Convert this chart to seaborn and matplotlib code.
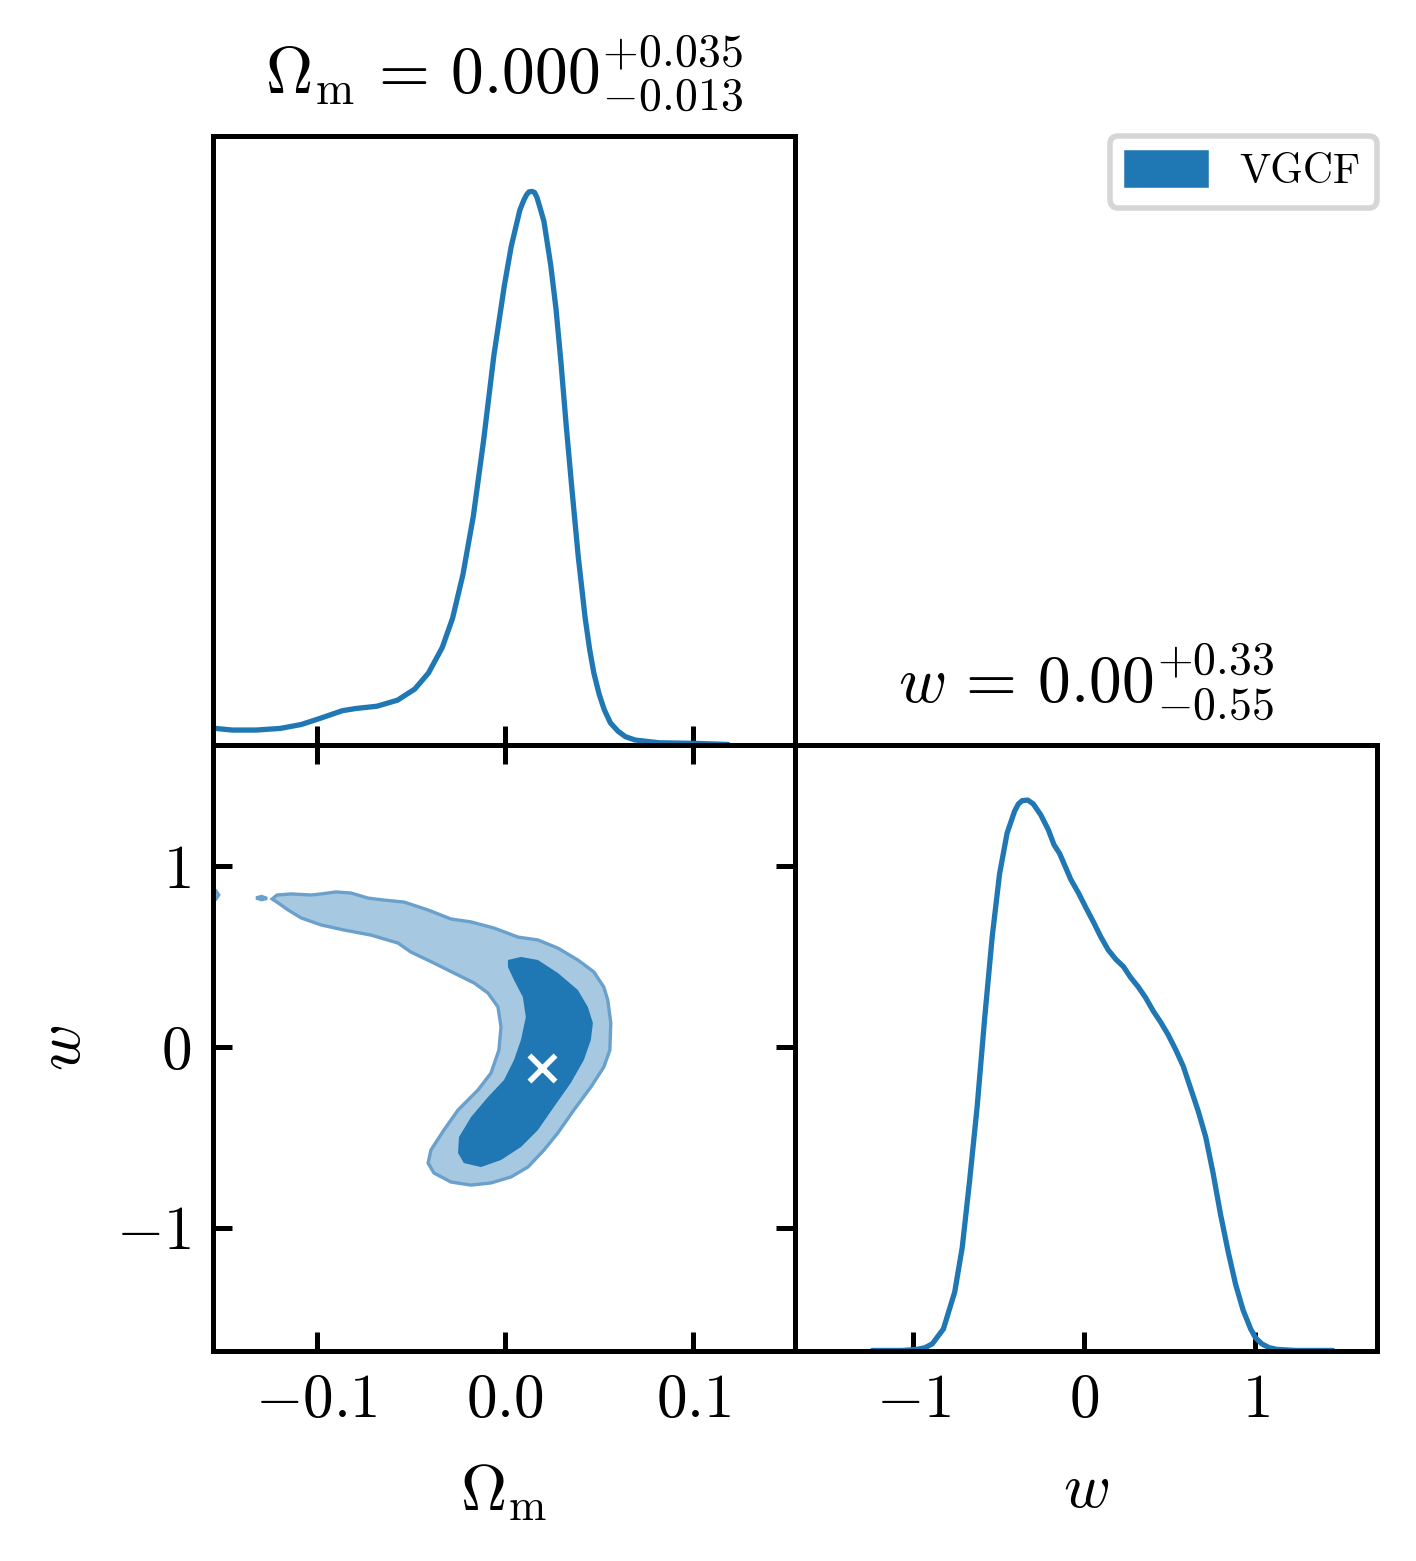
import numpy as np
import pandas as pd
import matplotlib
matplotlib.use("Agg")
import matplotlib.pyplot as plt
from matplotlib.patches import Patch
import seaborn as sns

# --- marginal of Omega_m (normalised to peak = 1) ---
om_grid = [-0.1539, -0.1448, -0.1320, -0.1192, -0.1082, -0.0991, -0.0863, -0.0790,
           -0.0680, -0.0570, -0.0479, -0.0406, -0.0333, -0.0278, -0.0223, -0.0168,
           -0.0113, -0.0059, -0.0004, 0.0033, 0.0079, 0.0100, 0.0115, 0.0128, 0.0143,
           0.0157, 0.0170, 0.0185, 0.0207, 0.0243, 0.0271, 0.0298, 0.0325, 0.0353,
           0.0389, 0.0426, 0.0450, 0.0472, 0.0500, 0.0527, 0.0560, 0.0600, 0.0640,
           0.0691, 0.0819, 0.1002, 0.1185]
om_density = [0.030, 0.027, 0.027, 0.030, 0.037, 0.047, 0.062, 0.066,
              0.070, 0.081, 0.101, 0.130, 0.176, 0.229, 0.308, 0.413,
              0.551, 0.703, 0.828, 0.900, 0.966, 0.984, 0.994, 0.999, 1.000,
              0.998, 0.989, 0.972, 0.946, 0.867, 0.788, 0.689, 0.578, 0.472,
              0.341, 0.229, 0.172, 0.130, 0.092, 0.064, 0.040, 0.025, 0.015,
              0.009, 0.004, 0.003, 0.001]

# --- marginal of w (normalised to peak = 1) ---
w_grid = [-1.239, -1.063, -0.976, -0.930, -0.888, -0.823, -0.757, -0.713, -0.670,
          -0.626, -0.582, -0.538, -0.495, -0.451, -0.407, -0.385, -0.363, -0.330,
          -0.298, -0.254, -0.210, -0.177, -0.144, -0.101, -0.079, -0.035, 0.009,
          0.053, 0.096, 0.140, 0.184, 0.228, 0.271, 0.315, 0.359, 0.403, 0.446,
          0.490, 0.534, 0.578, 0.621, 0.665, 0.709, 0.753, 0.796, 0.840, 0.884,
          0.928, 0.972, 1.000, 1.037, 1.080, 1.125, 1.234, 1.453]
w_density = [0.001, 0.001, 0.003, 0.006, 0.013, 0.040, 0.107, 0.188, 0.309,
             0.443, 0.604, 0.752, 0.866, 0.940, 0.980, 0.993, 0.999, 1.000,
             0.993, 0.973, 0.946, 0.919, 0.903, 0.872, 0.856, 0.832, 0.805,
             0.779, 0.752, 0.728, 0.711, 0.698, 0.678, 0.661, 0.641, 0.617, 0.597,
             0.574, 0.547, 0.517, 0.477, 0.436, 0.389, 0.322, 0.248, 0.181, 0.121,
             0.074, 0.040, 0.024, 0.013, 0.006, 0.003, 0.001, 0.001]

# --- 2D credible regions (traced outlines) ---
outer_om = [-0.1236, -0.1210, -0.1135, -0.1029, -0.0976, -0.0897, -0.0817, -0.0727,
            -0.0642, -0.0536, -0.0408, -0.0286, -0.0180, -0.0058, 0.0069, 0.0175,
            0.0281, 0.0387, 0.0472, 0.0525, 0.0546, 0.0562, 0.0557, 0.0525,
            0.0456, 0.0366, 0.0281, 0.0207, 0.0122, 0.0032, -0.0074, -0.0180,
            -0.0286, -0.0377, -0.0408, -0.0393, -0.0324, -0.0249, -0.0143, -0.0074,
            -0.0032, -0.0021, -0.0037, -0.0090, -0.0164, -0.0271, -0.0377, -0.0499,
            -0.0568, -0.0711, -0.0854, -0.0976, -0.1082, -0.1151, -0.1204]
outer_w = [0.820, 0.842, 0.848, 0.842, 0.848, 0.859, 0.853, 0.825,
           0.814, 0.803, 0.759, 0.709, 0.693, 0.659, 0.609, 0.593,
           0.548, 0.482, 0.416, 0.332, 0.260, 0.133, -0.017, -0.111,
           -0.222, -0.349, -0.476, -0.571, -0.665, -0.720, -0.753, -0.765,
           -0.748, -0.698, -0.643, -0.571, -0.460, -0.349, -0.238, -0.144,
           -0.017, 0.111, 0.222, 0.299, 0.355, 0.410, 0.465, 0.526,
           0.576, 0.620, 0.648, 0.676, 0.715, 0.759, 0.798]

inner_om = [0.0016, 0.0085, 0.0175, 0.0281, 0.0387, 0.0440, 0.0467, 0.0456, 0.0419,
            0.0350, 0.0260, 0.0175, 0.0085, -0.0021, -0.0127, -0.0218, -0.0249,
            -0.0244, -0.0180, -0.0090, -0.0005, 0.0048, 0.0085, 0.0111, 0.0095,
            0.0048, 0.0016]
inner_w = [0.482, 0.499, 0.482, 0.410, 0.316, 0.222, 0.133, 0.039, -0.072,
           -0.199, -0.332, -0.460, -0.554, -0.626, -0.665, -0.643, -0.587,
           -0.499, -0.388, -0.277, -0.183, -0.072, 0.039, 0.166, 0.277,
           0.371, 0.443]

islet1_om = [-0.1580, -0.1535, -0.1520, -0.1535, -0.1580]
islet1_w = [0.875, 0.866, 0.842, 0.818, 0.809]
islet2_om = [-0.1321, -0.1292, -0.1263, -0.1292]
islet2_w = [0.826, 0.834, 0.823, 0.816]

best_om = [0.0196]
best_w = [-0.116]

om_ticks = [-0.1, 0.0, 0.1]
om_ticklabels = ["$-0.1$", "$0.0$", "$0.1$"]
w_ticks = [-1, 0, 1]
w_ticklabels = ["$-1$", "$0$", "$1$"]

title_om = r"$\Omega_{\rm m}\,=\,0.000^{+0.035}_{-0.013}$"
title_w = r"$w\,=\,0.00^{+0.33}_{-0.55}$"
label_om = r"$\Omega_{\rm m}$"
label_w = r"$w$"
legend_label = "VGCF"

# style
sns.set_theme(style="ticks")
plt.rcParams.update({
    "font.family": "serif",
    "font.serif": ["cmr10"],
    "mathtext.fontset": "cm",
    "axes.formatter.use_mathtext": True,
    "axes.linewidth": 0.9,
    "axes.edgecolor": "black",
    "axes.labelcolor": "black",
    "text.color": "black",
    "xtick.color": "black",
    "ytick.color": "black",
    "xtick.direction": "in",
    "ytick.direction": "in",
    "xtick.major.width": 0.9,
    "ytick.major.width": 0.9,
    "xtick.major.size": 3.5,
    "ytick.major.size": 3.5,
    "font.size": 11,
})

blue = "#1f77b4"
light = "#a6c8e0"
edge = "#6aa0cc"

fig = plt.figure(figsize=(3.54, 3.9025), dpi=400)
W, H = 1416, 1561
ax_top = fig.add_axes([213 / W, 1 - 745 / H, 582 / W, 609 / H])
ax_2d = fig.add_axes([213 / W, 1 - 1351 / H, 582 / W, 606 / H])
ax_w = fig.add_axes([795 / W, 1 - 1351 / H, 582 / W, 606 / H])

om_xlim = (-0.155, 0.154)

# top-left marginal
sns.lineplot(x=om_grid, y=om_density, ax=ax_top, color=blue, lw=0.95)
ax_top.set_xlim(*om_xlim)
ax_top.set_ylim(0, 1.1)
ax_top.set_xticks(om_ticks)
ax_top.set_yticks([])
ax_top.tick_params(axis="x", bottom=True, top=False, labelbottom=False)
ax_top.set_xlabel("")
ax_top.set_ylabel("")
ax_top.set_title(title_om, fontsize=11.8, pad=7.5)

# 2D panel
ax_2d.fill(outer_om, outer_w, facecolor=light, edgecolor=edge, lw=0.6)
ax_2d.fill(islet1_om, islet1_w, facecolor=light, edgecolor=edge, lw=0.6)
ax_2d.fill(islet2_om, islet2_w, facecolor=light, edgecolor=edge, lw=0.6)
ax_2d.fill(inner_om, inner_w, facecolor=blue, edgecolor="none")
sns.scatterplot(x=best_om, y=best_w, ax=ax_2d, marker="x", color="white",
                s=22, linewidth=1.0, zorder=5)
ax_2d.set_xlim(*om_xlim)
ax_2d.set_ylim(-1.684, 1.673)
ax_2d.set_xticks(om_ticks)
ax_2d.set_xticklabels(om_ticklabels)
ax_2d.set_yticks(w_ticks)
ax_2d.set_yticklabels(w_ticklabels)
ax_2d.tick_params(top=True, right=True, labelsize=11, pad=4)
ax_2d.set_xlabel(label_om, fontsize=11.5, labelpad=6)
ax_2d.set_ylabel(label_w, fontsize=11.5, labelpad=4)

# bottom-right marginal
sns.lineplot(x=w_grid, y=w_density, ax=ax_w, color=blue, lw=0.95)
ax_w.set_xlim(-1.69, 1.71)
ax_w.set_ylim(0, 1.1)
ax_w.set_xticks(w_ticks)
ax_w.set_xticklabels(w_ticklabels)
ax_w.set_yticks([])
ax_w.tick_params(axis="x", labelsize=11, pad=4)
ax_w.set_xlabel(label_w, fontsize=11.5, labelpad=6)
ax_w.set_ylabel("")
ax_w.set_title(title_w, fontsize=11.8, pad=7.5)

handles = [Patch(facecolor=blue, edgecolor=blue)]
fig.legend(handles, [legend_label], loc="upper right",
           bbox_to_anchor=(1377 / W, 1 - 136 / H), borderaxespad=0,
           fontsize=7.5, frameon=True, fancybox=True, edgecolor="#d6d6d6",
           framealpha=1, handlelength=1.9, handleheight=0.8)

fig.savefig("out.png", dpi=400)
